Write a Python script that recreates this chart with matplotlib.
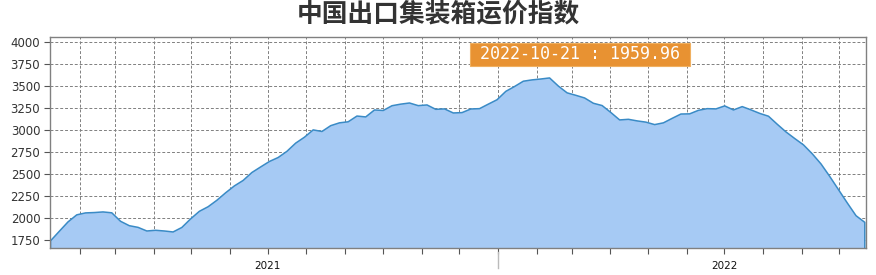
import matplotlib
matplotlib.use("Agg")
import matplotlib.pyplot as plt
import matplotlib.dates as mdates
from matplotlib.patches import Rectangle
from matplotlib.transforms import blended_transform_factory
import pandas as pd

plt.rcParams['font.family'] = ['Noto Sans CJK SC', 'DejaVu Sans']

title = "中国出口集装箱运价指数"
start_date = "2021-01-08"
end_date = "2022-10-21"
values = [
    1750, 1858, 1965, 2045, 2067, 2071, 2078, 2068, 1972, 1922,
    1903, 1862, 1870, 1862, 1851, 1902, 1999, 2085, 2137, 2210,
    2295, 2373, 2435, 2525, 2588, 2650, 2695, 2765, 2858, 2925,
    3008, 2990, 3056, 3088, 3100, 3165, 3155, 3234, 3228, 3282,
    3300, 3313, 3283, 3291, 3241, 3246, 3200, 3204, 3245, 3249,
    3300, 3350, 3445, 3500, 3560, 3575, 3585, 3597, 3505, 3428,
    3400, 3370, 3310, 3284, 3205, 3121, 3128, 3110, 3096, 3068,
    3088, 3139, 3188, 3190, 3230, 3249, 3246, 3280, 3234, 3272,
    3235, 3195, 3163, 3072, 2985, 2910, 2838, 2737, 2622, 2480,
    2330, 2180, 2035, 1959.96,
]
dates = pd.date_range(start_date, end_date, freq="7D")
y_ticks = [1750, 2000, 2250, 2500, 2750, 3000, 3250, 3500, 3750, 4000]
year_labels = ["2021", "2022"]
year_label_dates = ["2021-07-01", "2022-07-01"]
year_separator = "2022-01-01"
tooltip = "2022-10-21 : 1959.96"

W, H = 876, 275
fig = plt.figure(figsize=(W / 100, H / 100), dpi=100)
ax = fig.add_axes([50 / W, 1 - 248.3 / H, 816.3 / W, 211 / H])

ymin, ymax = 1660, 4052
ax.fill_between(dates, values, ymin, facecolor="#A6CAF4", edgecolor="#3A8BC6",
                linewidth=1.1, zorder=2)
ax.set_ylim(ymin, ymax)
ax.set_xlim(dates[0], dates[-1] + pd.Timedelta(days=1.6))

ax.set_yticks(y_ticks)
ax.set_yticklabels([str(v) for v in y_ticks], family="DejaVu Sans")
ax.xaxis.set_major_locator(mdates.MonthLocator())
ax.xaxis.set_major_formatter(plt.NullFormatter())

ax.grid(True, color="#808080", linestyle=(0, (3, 2)), linewidth=0.7, zorder=1)
ax.set_axisbelow(True)
for s in ax.spines.values():
    s.set_color("#808080")
    s.set_linewidth(1.0)
ax.tick_params(axis="y", direction="out", length=4, width=0.8, color="#555555",
               labelsize=8.5, labelcolor="#333333", pad=3)
ax.tick_params(axis="x", direction="out", length=4, width=0.8, color="#555555")

trans = blended_transform_factory(ax.transData, ax.transAxes)
for lab, d in zip(year_labels, year_label_dates):
    ax.text(pd.Timestamp(d), -0.06, lab, transform=trans, ha="center", va="top",
            fontsize=7.5, color="#111111", family="DejaVu Sans")
sep = pd.Timestamp(year_separator)
ax.plot([sep, sep], [-0.017, -0.093], transform=trans, color="#BBBBBB",
        linewidth=1.0, clip_on=False)

fig.text(0.5, 1 - 14 / H, title, ha="center", va="center", fontsize=18.5,
         color="#333333", fontweight="bold")

bx0, bx1, by0, by1 = 470.3, 690.3, 43, 65.7
fig.add_artist(Rectangle((bx0 / W, 1 - by1 / H), (bx1 - bx0) / W, (by1 - by0) / H,
                         transform=fig.transFigure, facecolor="#E89232",
                         edgecolor="#F0B060", linewidth=0.8, zorder=5))
fig.text((bx0 + bx1) / 2 / W, 1 - (by0 + by1) / 2 / H, tooltip, ha="center",
         va="center", fontsize=12, color="white", family="DejaVu Sans Mono",
         zorder=6)

fig.savefig("out.png", dpi=100, facecolor="white")
